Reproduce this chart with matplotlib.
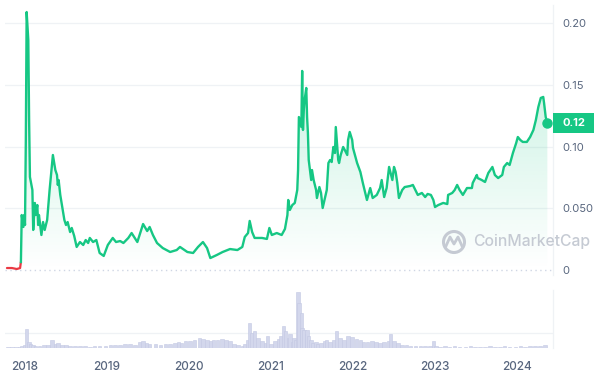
import matplotlib
matplotlib.use("Agg")
import matplotlib.pyplot as plt
import numpy as np
from matplotlib.colors import to_rgb
from matplotlib.patches import PathPatch, Circle, Rectangle

plt.rcParams['font.family'] = ['Inter', 'DejaVu Sans']

# price history (decimal year, USD)
years = [2017.78, 2017.84, 2017.90, 2017.94, 2017.95, 2017.96, 2017.98, 2017.99,
         2018.00, 2018.01, 2018.02, 2018.04, 2018.05, 2018.06, 2018.09, 2018.10,
         2018.12, 2018.13, 2018.15, 2018.16, 2018.17, 2018.20, 2018.22, 2018.24,
         2018.27, 2018.30, 2018.34, 2018.37, 2018.39, 2018.40, 2018.41, 2018.43,
         2018.45, 2018.48, 2018.50, 2018.52, 2018.55, 2018.57, 2018.60, 2018.63,
         2018.67, 2018.71, 2018.74, 2018.77, 2018.79, 2018.83, 2018.87, 2018.91,
         2018.96, 2019.01, 2019.07, 2019.11, 2019.16, 2019.20, 2019.26, 2019.30,
         2019.37, 2019.44, 2019.49, 2019.52, 2019.56, 2019.61, 2019.68, 2019.77,
         2019.85, 2019.89, 2019.98, 2020.05, 2020.11, 2020.17, 2020.22, 2020.26,
         2020.34, 2020.41, 2020.50, 2020.59, 2020.65, 2020.68, 2020.72, 2020.74,
         2020.77, 2020.80, 2020.89, 2020.95, 2020.98, 2021.01, 2021.07, 2021.13,
         2021.17, 2021.20, 2021.21, 2021.23, 2021.26, 2021.29, 2021.32, 2021.33,
         2021.34, 2021.37, 2021.38, 2021.39, 2021.40, 2021.41, 2021.43, 2021.44,
         2021.45, 2021.46, 2021.49, 2021.50, 2021.52, 2021.55, 2021.56, 2021.59,
         2021.61, 2021.63, 2021.66, 2021.68, 2021.70, 2021.72, 2021.74, 2021.76,
         2021.78, 2021.79, 2021.82, 2021.83, 2021.85, 2021.88, 2021.90, 2021.93,
         2021.94, 2021.96, 2021.99, 2022.00, 2022.05, 2022.09, 2022.12, 2022.15,
         2022.17, 2022.21, 2022.24, 2022.29, 2022.33, 2022.35, 2022.38, 2022.41,
         2022.44, 2022.48, 2022.50, 2022.52, 2022.54, 2022.56, 2022.60, 2022.63,
         2022.70, 2022.73, 2022.76, 2022.79, 2022.84, 2022.88, 2022.91, 2022.95,
         2022.98, 2023.00, 2023.04, 2023.10, 2023.15, 2023.16, 2023.21, 2023.24,
         2023.27, 2023.30, 2023.34, 2023.39, 2023.45, 2023.46, 2023.51, 2023.52,
         2023.57, 2023.61, 2023.65, 2023.70, 2023.73, 2023.77, 2023.82, 2023.84,
         2023.88, 2023.91, 2023.95, 2023.99, 2024.01, 2024.04, 2024.07, 2024.12,
         2024.16, 2024.20, 2024.23, 2024.26, 2024.29, 2024.32, 2024.33, 2024.35,
         2024.37]
price = [0.0016, 0.0016, 0.0008, 0.0016, 0.0065, 0.0446, 0.0349, 0.0446,
         0.0365, 0.1055, 0.2093, 0.1866, 0.1217, 0.0755, 0.0649, 0.0325,
         0.0544, 0.0446, 0.0527, 0.0365, 0.0446, 0.0284, 0.0389, 0.0325,
         0.0406, 0.0649, 0.0933, 0.0811, 0.0771, 0.0690, 0.0730, 0.0609,
         0.0527, 0.0406, 0.0365, 0.0389, 0.0308, 0.0341, 0.0276, 0.0187,
         0.0227, 0.0203, 0.0243, 0.0219, 0.0260, 0.0227, 0.0243, 0.0138,
         0.0114, 0.0203, 0.0260, 0.0227, 0.0235, 0.0219, 0.0260, 0.0300,
         0.0227, 0.0373, 0.0316, 0.0349, 0.0284, 0.0219, 0.0178, 0.0146,
         0.0162, 0.0187, 0.0146, 0.0138, 0.0187, 0.0227, 0.0178, 0.0097,
         0.0122, 0.0146, 0.0170, 0.0162, 0.0187, 0.0268, 0.0300, 0.0398,
         0.0308, 0.0260, 0.0260, 0.0252, 0.0341, 0.0284, 0.0300, 0.0284,
         0.0333, 0.0446, 0.0568, 0.0487, 0.0527, 0.0544, 0.0649, 0.0811,
         0.1241, 0.1160, 0.1615, 0.1136, 0.1298, 0.1379, 0.1477, 0.1241,
         0.1112, 0.0892, 0.0730, 0.0811, 0.0730, 0.0649, 0.0584, 0.0673,
         0.0625, 0.0503, 0.0592, 0.0649, 0.0868, 0.0892, 0.0876, 0.0998,
         0.0949, 0.1160, 0.0892, 0.0868, 0.0933, 0.0998, 0.0973, 0.0933,
         0.1055, 0.1120, 0.1055, 0.0990, 0.0868, 0.0795, 0.0706, 0.0625,
         0.0568, 0.0665, 0.0584, 0.0609, 0.0665, 0.0730, 0.0592, 0.0665,
         0.0836, 0.0730, 0.0836, 0.0795, 0.0706, 0.0584, 0.0649, 0.0673,
         0.0682, 0.0690, 0.0649, 0.0609, 0.0625, 0.0592, 0.0617, 0.0609,
         0.0568, 0.0511, 0.0527, 0.0544, 0.0535, 0.0609, 0.0625, 0.0649,
         0.0690, 0.0649, 0.0609, 0.0665, 0.0665, 0.0706, 0.0771, 0.0746,
         0.0730, 0.0714, 0.0787, 0.0836, 0.0771, 0.0746, 0.0771, 0.0836,
         0.0868, 0.0852, 0.0949, 0.1030, 0.1079, 0.1055, 0.1039, 0.1039,
         0.1079, 0.1136, 0.1217, 0.1322, 0.1396, 0.1404, 0.1355, 0.1241,
         0.1193]

# trading volume (decimal year, billions USD)
vol_years = [2017.79, 2017.84, 2017.89, 2017.94, 2017.96, 2018.00, 2018.02, 2018.05,
             2018.07, 2018.10, 2018.13, 2018.18, 2018.23, 2018.28, 2018.33, 2018.37,
             2018.40, 2018.45, 2018.50, 2018.55, 2018.61, 2018.67, 2018.73, 2018.79,
             2018.85, 2018.91, 2018.98, 2019.04, 2019.10, 2019.16, 2019.22, 2019.28,
             2019.34, 2019.40, 2019.44, 2019.48, 2019.52, 2019.59, 2019.65, 2019.71,
             2019.77, 2019.83, 2019.87, 2019.91, 2019.96, 2020.01, 2020.07, 2020.13,
             2020.17, 2020.22, 2020.26, 2020.30, 2020.35, 2020.40, 2020.45, 2020.50,
             2020.55, 2020.60, 2020.65, 2020.68, 2020.72, 2020.74, 2020.77, 2020.80,
             2020.84, 2020.89, 2020.93, 2020.96, 2021.00, 2021.05, 2021.10, 2021.12,
             2021.15, 2021.18, 2021.21, 2021.23, 2021.26, 2021.28, 2021.30, 2021.33,
             2021.34, 2021.37, 2021.38, 2021.40, 2021.43, 2021.44, 2021.46, 2021.49,
             2021.51, 2021.55, 2021.57, 2021.61, 2021.65, 2021.68, 2021.72, 2021.77,
             2021.80, 2021.84, 2021.89, 2021.94, 2021.99, 2022.04, 2022.09, 2022.13,
             2022.18, 2022.23, 2022.28, 2022.33, 2022.38, 2022.43, 2022.46, 2022.50,
             2022.55, 2022.60, 2022.65, 2022.70, 2022.76, 2022.82, 2022.88, 2022.94,
             2022.98, 2023.01, 2023.06, 2023.12, 2023.18, 2023.24, 2023.30, 2023.37,
             2023.43, 2023.49, 2023.55, 2023.61, 2023.67, 2023.73, 2023.79, 2023.85,
             2023.91, 2023.98, 2024.04, 2024.10, 2024.16, 2024.22, 2024.28, 2024.34]
volume = [0.1, 0.1, 0.1, 0.1, 0.2, 0.3, 1.9, 0.6,
          0.4, 0.3, 0.2, 0.2, 0.3, 0.3, 0.8, 0.4,
          0.5, 0.3, 0.3, 0.2, 0.2, 0.2, 0.2, 0.1,
          0.2, 0.2, 0.2, 0.3, 0.3, 0.3, 0.4, 0.4,
          0.3, 0.6, 0.7, 0.5, 0.4, 0.4, 0.3, 0.4,
          0.4, 0.5, 0.6, 0.5, 0.7, 0.7, 0.8, 1.0,
          0.9, 0.8, 0.7, 0.8, 0.8, 0.9, 0.8, 0.7,
          0.4, 0.3, 0.2, 0.4, 0.8, 2.5, 1.5, 1.7,
          1.0, 0.7, 0.5, 1.2, 0.4, 0.7, 0.9, 1.2,
          2.2, 1.7, 1.0, 1.4, 0.6, 1.0, 0.8, 5.6,
          4.5, 3.5, 2.0, 1.8, 1.4, 1.8, 1.2, 0.8,
          0.5, 0.6, 0.4, 0.5, 0.7, 0.8, 0.6, 0.8,
          1.7, 1.0, 0.8, 1.2, 1.1, 0.9, 0.8, 0.6,
          0.6, 0.7, 0.6, 0.5, 0.6, 0.7, 1.4, 0.7,
          0.5, 0.3, 0.3, 0.2, 0.2, 0.2, 0.2, 0.2,
          0.7, 0.2, 0.1, 0.2, 0.1, 0.2, 0.1, 0.1,
          0.2, 0.1, 0.1, 0.1, 0.2, 0.1, 0.1, 0.2,
          0.1, 0.1, 0.2, 0.1, 0.2, 0.2, 0.2, 0.3]

tick_years = [2018, 2019, 2020, 2021, 2022, 2023, 2024]
price_ticks = [0, 0.05, 0.10, 0.15, 0.20]
price_tick_labels = ['0', '0.050', '0.10', '0.15', '0.20']
last_label = '0.12'

GREEN = '#16c784'
RED = '#ea3943'
GRID = '#eff2f5'
TEXT = '#58667e'

W, H = 600, 377
fig = plt.figure(figsize=(W / 100, H / 100), dpi=100)
fig.patch.set_facecolor('white')

def px_axes(x0, y0, x1, y1):
    # pixel box (top-left origin) -> figure axes
    return fig.add_axes([x0 / W, 1 - y1 / H, (x1 - x0) / W, (y1 - y0) / H])

xlim = (2017.756, 2024.439)
ylim = (-0.00406, 0.2150)

# ---- price panel
ax = px_axes(5, 5, 553, 275)
ax.set_xlim(*xlim)
ax.set_ylim(*ylim)

yrs = np.array(years)
pr = np.array(price)
n_red = 4
ax.plot(yrs[:n_red + 1], pr[:n_red + 1], color=RED, lw=1.6, zorder=4, solid_capstyle='round')
ax.plot(yrs[n_red:], pr[n_red:], color=GREEN, lw=1.7, zorder=4, solid_joinstyle='round')

# gradient fill under the line
poly = ax.fill_between(yrs, pr, 0, color='none', lw=0)
clip = PathPatch(poly.get_paths()[0], transform=ax.transData, facecolor='none', edgecolor='none')
ax.add_patch(clip)
grad = np.zeros((256, 1, 4))
grad[..., :3] = to_rgb(GREEN)
grad[:, 0, 3] = np.linspace(0.0, 0.22, 256)
im = ax.imshow(grad, extent=[xlim[0], xlim[1], 0, 0.16], origin='lower',
               aspect='auto', zorder=2, interpolation='bilinear')
im.set_clip_path(clip)
ax.set_xlim(*xlim)
ax.set_ylim(*ylim)

for v in price_ticks[1:]:
    ax.axhline(v, color=GRID, lw=0.9, zorder=0)
ax.axhline(0, color='#cfd6e4', lw=1.0, ls=(0, (1, 2.5)), zorder=1)

ax.plot([yrs[-1]], [pr[-1]], 'o', color=GREEN, ms=6.5, zorder=5)

for s in ['top', 'left', 'bottom']:
    ax.spines[s].set_visible(False)
ax.spines['right'].set_color(GRID)
ax.spines['right'].set_linewidth(0.9)
ax.set_xticks([])
ax.yaxis.tick_right()
ax.set_yticks(price_ticks)
ax.set_yticklabels(price_tick_labels)
ax.tick_params(axis='y', length=0, pad=7, labelsize=8, labelcolor=TEXT)

# current price badge, placed at the last price on the right edge
_, ypx = ax.transData.transform((xlim[1], pr[-1]))
fig.patches.append(Rectangle((553, ypx - 10), 41, 20, transform=None,
                             fc=GREEN, ec='none', zorder=6))
fig.text(573.5 / W, ypx / H, last_label, ha='center', va='center',
         color='white', fontsize=8, fontweight='bold', zorder=7)

# watermark
fig.patches.append(Circle((454, H - 242), 10.5, transform=None, fill=False,
                          ec='#c5cad3', lw=2.2))
fig.lines.append(plt.Line2D([446, 450, 454, 458, 462], [H - 246, H - 237, H - 244, H - 237, H - 246],
                            transform=None, color='#c5cad3', lw=2.0))
fig.text(473 / W, 1 - 242 / H, 'CoinMarketCap', ha='left', va='center',
         fontsize=11.3, color='#c5cad3', fontweight='medium')

# ---- volume panel
axv = px_axes(5, 290, 553, 348)
axv.set_xlim(*xlim)
axv.set_ylim(0, 5.8)
axv.bar(vol_years, volume, width=0.042, color='#d3d7ec', edgecolor='#c3c8e3', lw=0.4)
axv.axhline(1.5, color=GRID, lw=0.9, zorder=0)
for s in ['top', 'left', 'bottom']:
    axv.spines[s].set_visible(False)
axv.spines['right'].set_color(GRID)
axv.spines['right'].set_linewidth(0.9)
axv.set_yticks([])
axv.set_xticks(tick_years)
axv.set_xticklabels([str(y) for y in tick_years])
axv.tick_params(axis='x', length=0, pad=9, labelsize=8.5, labelcolor=TEXT)
for lab in axv.get_xticklabels():
    lab.set_fontweight('medium')

fig.savefig('out.png', dpi=100, facecolor='white')
